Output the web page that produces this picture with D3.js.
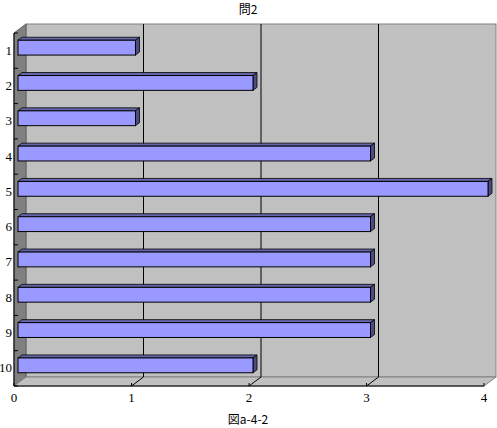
<!DOCTYPE html><html><head><meta charset="utf-8">
<script src="https://cdn.jsdelivr.net/npm/d3@7"></script>
<style>body{margin:0;background:#fff}text{font-family:"Liberation Serif","DejaVu Serif",serif;font-size:13px}</style></head><body>
<svg id="c" width="497" height="428"></svg>
<script>
const categories=["1","2","3","4","5","6","7","8","9","10"];
const values=[1,2,1,3,4,3,3,3,3,2];
const xTicks=[0,1,2,3,4];
const title="問2", xTitle="図a-4-2";
const svg=d3.select("#c");
const DX=12, DY=-9;
const x=d3.scaleLinear().domain([0,4]).range([14,484]);
const yTop=33, yBot=386;
const y=d3.scaleBand().domain(categories).range([yTop,yBot]).paddingInner(0.58).paddingOuter(0.29);
svg.append("rect").attr("x",x(0)+DX).attr("y",yTop+DY).attr("width",x(4)-x(0)).attr("height",yBot-yTop).attr("fill","#c0c0c0").attr("stroke","#808080");
svg.append("polygon").attr("points",[[x(0),yTop],[x(0)+DX,yTop+DY],[x(0)+DX,yBot+DY],[x(0),yBot]].join(" ")).attr("fill","#808080").attr("stroke","#606060");
svg.append("polygon").attr("points",[[x(0),yBot],[x(0)+DX,yBot+DY],[x(4)+DX,yBot+DY],[x(4),yBot]].join(" ")).attr("fill","#c0c0c0").attr("stroke","#808080");
xTicks.slice(1,4).forEach(t=>{
 svg.append("line").attr("x1",x(t)+DX).attr("x2",x(t)+DX).attr("y1",yTop+DY).attr("y2",yBot+DY).attr("stroke","#000");
 svg.append("line").attr("x1",x(t)).attr("x2",x(t)+DX).attr("y1",yBot).attr("y2",yBot+DY).attr("stroke","#000");
});
const bx=4, by=-3;
const g=svg.append("g");
categories.forEach((c,i)=>{
 const x0=x(0)+bx, x1=x(values[i])+bx, y0=y(c)+by, h=y.bandwidth();
 g.append("polygon").attr("points",[[x0,y0],[x0+4,y0-3],[x1+4,y0-3],[x1,y0]].join(" ")).attr("fill","#6666aa").attr("stroke","#000").attr("stroke-width",0.8);
 g.append("polygon").attr("points",[[x1,y0],[x1+4,y0-3],[x1+4,y0+h-3],[x1,y0+h]].join(" ")).attr("fill","#4c4c80").attr("stroke","#000").attr("stroke-width",0.8);
 g.append("rect").attr("x",x0).attr("y",y0).attr("width",x1-x0).attr("height",h).attr("fill","#9999ff").attr("stroke","#000").attr("stroke-width",1);
});
svg.append("line").attr("x1",x(0)).attr("x2",x(0)).attr("y1",yTop).attr("y2",yBot).attr("stroke","#000");
svg.append("line").attr("x1",x(0)).attr("x2",x(4)).attr("y1",yBot).attr("y2",yBot).attr("stroke","#000");
for(let i=0;i<=categories.length;i++){const yy=yTop+i*(yBot-yTop)/categories.length;
 svg.append("line").attr("x1",x(0)).attr("x2",x(0)+4).attr("y1",yy).attr("y2",yy).attr("stroke","#000");}
xTicks.forEach(t=>{svg.append("line").attr("x1",x(t)).attr("x2",x(t)).attr("y1",yBot).attr("y2",yBot-3).attr("stroke","#000");
 svg.append("text").attr("x",x(t)).attr("y",402).attr("text-anchor","middle").text(t);});
categories.forEach(c=>svg.append("text").attr("x",12).attr("y",y(c)+y.bandwidth()/2+1).attr("text-anchor","end").attr("dominant-baseline","middle").text(c));
svg.append("text").attr("x",248).attr("y",14).attr("text-anchor","middle").style("font-family","Noto Sans CJK JP").style("font-size","12px").text(title);
svg.append("text").attr("x",248).attr("y",424).attr("text-anchor","middle").style("font-family","Noto Sans CJK JP").style("font-size","12px").text(xTitle);
</script></body></html>
